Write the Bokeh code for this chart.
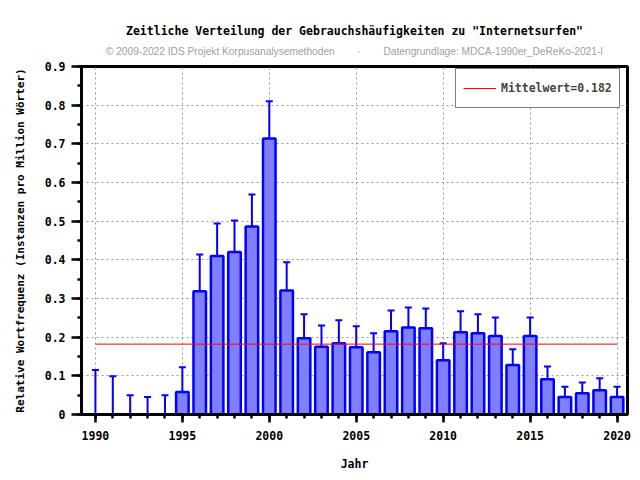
from bokeh.plotting import figure
from bokeh.models import (ColumnDataSource, Whisker, TeeHead, SingleIntervalTicker,
                          Title, Range1d, Legend, LegendItem, CustomJSTickFormatter)
from bokeh.embed import file_html
from bokeh.resources import INLINE

years = list(range(1990, 2021))
values = [0, 0, 0, 0, 0, 0.058, 0.319, 0.410, 0.420, 0.486, 0.714,
          0.321, 0.197, 0.175, 0.184, 0.174, 0.161, 0.215, 0.225, 0.223, 0.140,
          0.213, 0.210, 0.203, 0.128, 0.203, 0.091, 0.045, 0.055, 0.063, 0.045]
upper = [0.115, 0.099, 0.050, 0.045, 0.050, 0.122, 0.414, 0.494, 0.502, 0.569, 0.810,
         0.394, 0.259, 0.230, 0.244, 0.228, 0.210, 0.269, 0.277, 0.274, 0.184,
         0.267, 0.259, 0.251, 0.169, 0.251, 0.124, 0.072, 0.083, 0.094, 0.072]
lower = [0, 0, 0, 0, 0, 0.029, 0.246, 0.337, 0.352, 0.417, 0.629,
         0.262, 0.148, 0.129, 0.140, 0.135, 0.122, 0.173, 0.184, 0.181, 0.103,
         0.171, 0.168, 0.160, 0.097, 0.160, 0.065, 0.028, 0.036, 0.041, 0.026]
mean_value = 0.182

title_text = 'Zeitliche Verteilung der Gebrauchshäufigkeiten zu "Internetsurfen"'
nb = "\u00a0"
subtitle_text = ("© 2009-2022 IDS Projekt Korpusanalysemethoden" + nb * 8 + "·" + nb * 8 +
                 "Datengrundlage: MDCA-1990er_DeReKo-2021-I")
x_label = "Jahr"
y_label = "Relative Wortfrequenz (Instanzen pro Million Wörter)"
legend_text = "Mittelwert=%.3f" % mean_value

MONO = "DejaVu Sans Mono"

p = figure(width=640, height=480, output_backend="svg", toolbar_location=None,
           x_range=Range1d(1989.2, 2020.6), y_range=Range1d(0, 0.9),
           min_border_left=81, min_border_right=13, min_border_top=66, min_border_bottom=66)
p.title = None

sub = Title(text=subtitle_text, align="center", text_font="Liberation Sans",
            text_font_size="10.2px", text_font_style="normal", text_color="#a0a0a0",
            standoff=19)
p.add_layout(sub, "above")
main = Title(text=title_text, align="center", text_font=MONO, text_font_size="11.5px",
             text_font_style="bold", text_color="black", standoff=-6)
p.add_layout(main, "above")

src = ColumnDataSource(dict(x=years, top=values, upper=upper, lower=lower))

p.vbar(x="x", top="top", bottom=0, width=0.72, source=src,
       fill_color="#8080ff", line_color="#0000ff", line_width=2.5)

w = Whisker(base="x", upper="upper", lower="lower", source=src,
            line_color="#0000ff", line_width=2,
            upper_head=TeeHead(size=7, line_color="#0000ff", line_width=2),
            lower_head=TeeHead(size=7, line_color="#0000ff", line_width=2))
p.add_layout(w)

mline = p.line(x=[years[0], years[-1]], y=[mean_value, mean_value],
               line_color="red", line_width=1)

legend = Legend(items=[LegendItem(label=legend_text, renderers=[mline])],
                location=(374, 306))
legend.border_line_color = "black"
legend.border_line_width = 1.5
legend.background_fill_color = "white"
legend.background_fill_alpha = 1
legend.label_text_font = MONO
legend.label_text_font_style = "bold"
legend.label_text_font_size = "11.5px"
legend.glyph_width = 33
legend.glyph_height = 24
legend.label_height = 24
legend.label_standoff = 5
legend.padding = 7
legend.margin = 0
p.add_layout(legend)

# axes
p.xaxis.ticker = SingleIntervalTicker(interval=5, num_minor_ticks=5)
p.yaxis.ticker = SingleIntervalTicker(interval=0.1, num_minor_ticks=2)
for ax in (p.xaxis, p.yaxis):
    ax.axis_line_width = 3
    ax.axis_line_color = "black"
    ax.major_tick_line_width = 2.5
    ax.minor_tick_line_width = 2.5
    ax.major_tick_line_color = "black"
    ax.minor_tick_line_color = "black"
    ax.major_tick_in = 0
    ax.minor_tick_in = 0
    ax.major_label_text_font = MONO
    ax.major_label_text_font_style = "bold"
    ax.major_label_text_font_size = "11.5px"
    ax.major_label_text_color = "black"
    ax.axis_label_text_font = MONO
    ax.axis_label_text_font_style = "bold"
    ax.axis_label_text_color = "black"
p.xaxis.major_tick_out = 8
p.xaxis.minor_tick_out = 4
p.yaxis.major_tick_out = 10
p.yaxis.minor_tick_out = 4
p.xaxis.major_label_standoff = 8
p.yaxis.major_label_standoff = 6
p.xaxis.axis_label = x_label
p.yaxis.axis_label = y_label
p.xaxis.axis_label_text_font_size = "11.5px"
p.yaxis.axis_label_text_font_size = "11px"
p.xaxis.axis_label_standoff = 14
p.yaxis.axis_label_standoff = 15
p.yaxis.formatter = CustomJSTickFormatter(code="return tick < 1e-9 ? '0' : tick.toFixed(1);")

p.xgrid.ticker = p.xaxis.ticker
p.grid.grid_line_color = "#999999"
p.grid.grid_line_dash = "2 3"
p.grid.grid_line_width = 1

p.outline_line_color = "black"
p.outline_line_width = 3
p.outline_line_alpha = 1
p.background_fill_color = "white"
p.border_fill_color = "white"

open("out.html", "w").write(file_html(p, INLINE))
